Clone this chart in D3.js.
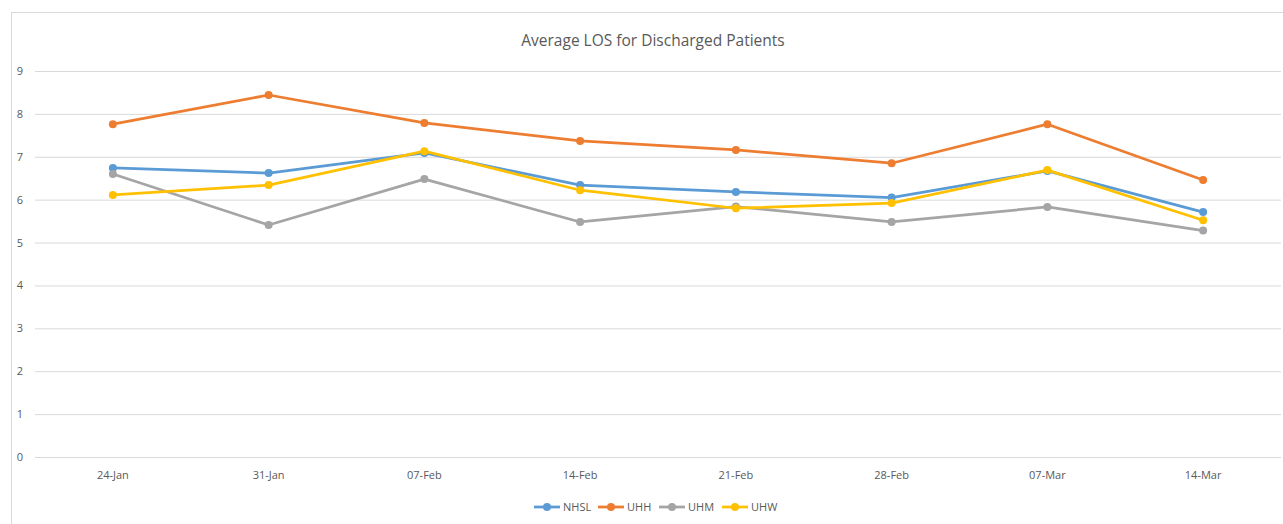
<!DOCTYPE html>
<html>
<head>
<meta charset="utf-8">
<script src="https://cdn.jsdelivr.net/npm/d3@7"></script>
<style>
  body { margin: 0; background: #fff; }
  text { font-family: "Open Sans", "Noto Sans", sans-serif; fill: #595959; }
</style>
</head>
<body>
<div id="chart"></div>
<script>
// week labels along the x axis
const weeks = ["24-Jan", "31-Jan", "07-Feb", "14-Feb", "21-Feb", "28-Feb", "07-Mar", "14-Mar"];
const yTicks = [0, 1, 2, 3, 4, 5, 6, 7, 8, 9];

// series values
const nhsl = [6.74, 6.62, 7.09, 6.34, 6.18, 6.05, 6.67, 5.71];
const uhh = [7.76, 8.44, 7.79, 7.37, 7.16, 6.85, 7.76, 6.46];
const uhm = [6.60, 5.41, 6.48, 5.48, 5.84, 5.48, 5.83, 5.28];
const uhw = [6.11, 6.34, 7.13, 6.22, 5.80, 5.92, 6.69, 5.52];

const seriesNames = ["NHSL", "UHH", "UHM", "UHW"];
const seriesColors = ["#5B9BD5", "#ED7D31", "#A5A5A5", "#FFC000"];

function drawChart() {
  const width = 1283;
  const height = 524;
  const plot = { left: 35, right: 1281, top: 71, bottom: 457 };

  const series = [nhsl, uhh, uhm, uhw].map((vals, i) => ({
    name: seriesNames[i],
    color: seriesColors[i],
    values: vals
  }));

  const svg = d3.select("#chart")
    .append("svg")
    .attr("width", width)
    .attr("height", height);

  // outer chart frame
  svg.append("rect")
    .attr("x", 11.5).attr("y", 12.5)
    .attr("width", width).attr("height", height)
    .attr("fill", "none")
    .attr("stroke", "#d9d9d9");

  const x = d3.scaleBand()
    .domain(weeks)
    .range([plot.left, plot.right]);

  const y = d3.scaleLinear()
    .domain([0, 9])
    .range([plot.bottom, plot.top]);

  // gridlines + y labels
  const yAxis = svg.append("g")
    .attr("transform", `translate(${plot.left},0)`)
    .call(d3.axisLeft(y).tickValues(yTicks).tickSize(-(plot.right - plot.left)).tickPadding(12));
  yAxis.select(".domain").remove();
  yAxis.selectAll(".tick line").attr("stroke", "#d9d9d9");
  yAxis.selectAll(".tick text")
    .attr("fill", "#595959")
    .style("font-size", "11px")
    .style("font-family", "'Open Sans', sans-serif");

  // x labels
  const xAxis = svg.append("g")
    .attr("transform", `translate(0,${plot.bottom})`)
    .call(d3.axisBottom(x).tickSize(0).tickPadding(14));
  xAxis.select(".domain").remove();
  xAxis.selectAll(".tick text")
    .attr("fill", "#595959")
    .style("font-size", "11px")
    .style("font-family", "'Open Sans', sans-serif");

  const cx = (d, i) => x(weeks[i]) + x.bandwidth() / 2;

  const line = d3.line()
    .x(cx)
    .y((d) => y(d));

  const g = svg.append("g")
    .selectAll("g")
    .data(series)
    .join("g");

  g.append("path")
    .attr("d", (d) => line(d.values))
    .attr("fill", "none")
    .attr("stroke", (d) => d.color)
    .attr("stroke-width", 2.75)
    .attr("stroke-linejoin", "round");

  g.selectAll("circle")
    .data((d) => d.values.map((v) => ({ v, color: d.color })))
    .join("circle")
    .attr("cx", (d, i) => cx(d, i))
    .attr("cy", (d) => y(d.v))
    .attr("r", 4)
    .attr("fill", (d) => d.color);

  // title
  svg.append("text")
    .attr("x", 653)
    .attr("y", 46)
    .attr("text-anchor", "middle")
    .style("font-size", "15.5px")
    .text("Average LOS for Discharged Patients");

  // legend
  const legendX = [534, 598, 659, 722];
  const legend = svg.append("g")
    .selectAll("g")
    .data(series)
    .join("g")
    .attr("transform", (d, i) => `translate(${legendX[i]},507)`);
  legend.append("line")
    .attr("x1", 0).attr("x2", 26)
    .attr("stroke", (d) => d.color)
    .attr("stroke-width", 2.75);
  legend.append("circle")
    .attr("cx", 13).attr("r", 4)
    .attr("fill", (d) => d.color);
  legend.append("text")
    .attr("x", 29).attr("y", 4)
    .style("font-size", "11px")
    .text((d) => d.name);
}

window.onload = function () {
  drawChart();
};
</script>
</body>
</html>
